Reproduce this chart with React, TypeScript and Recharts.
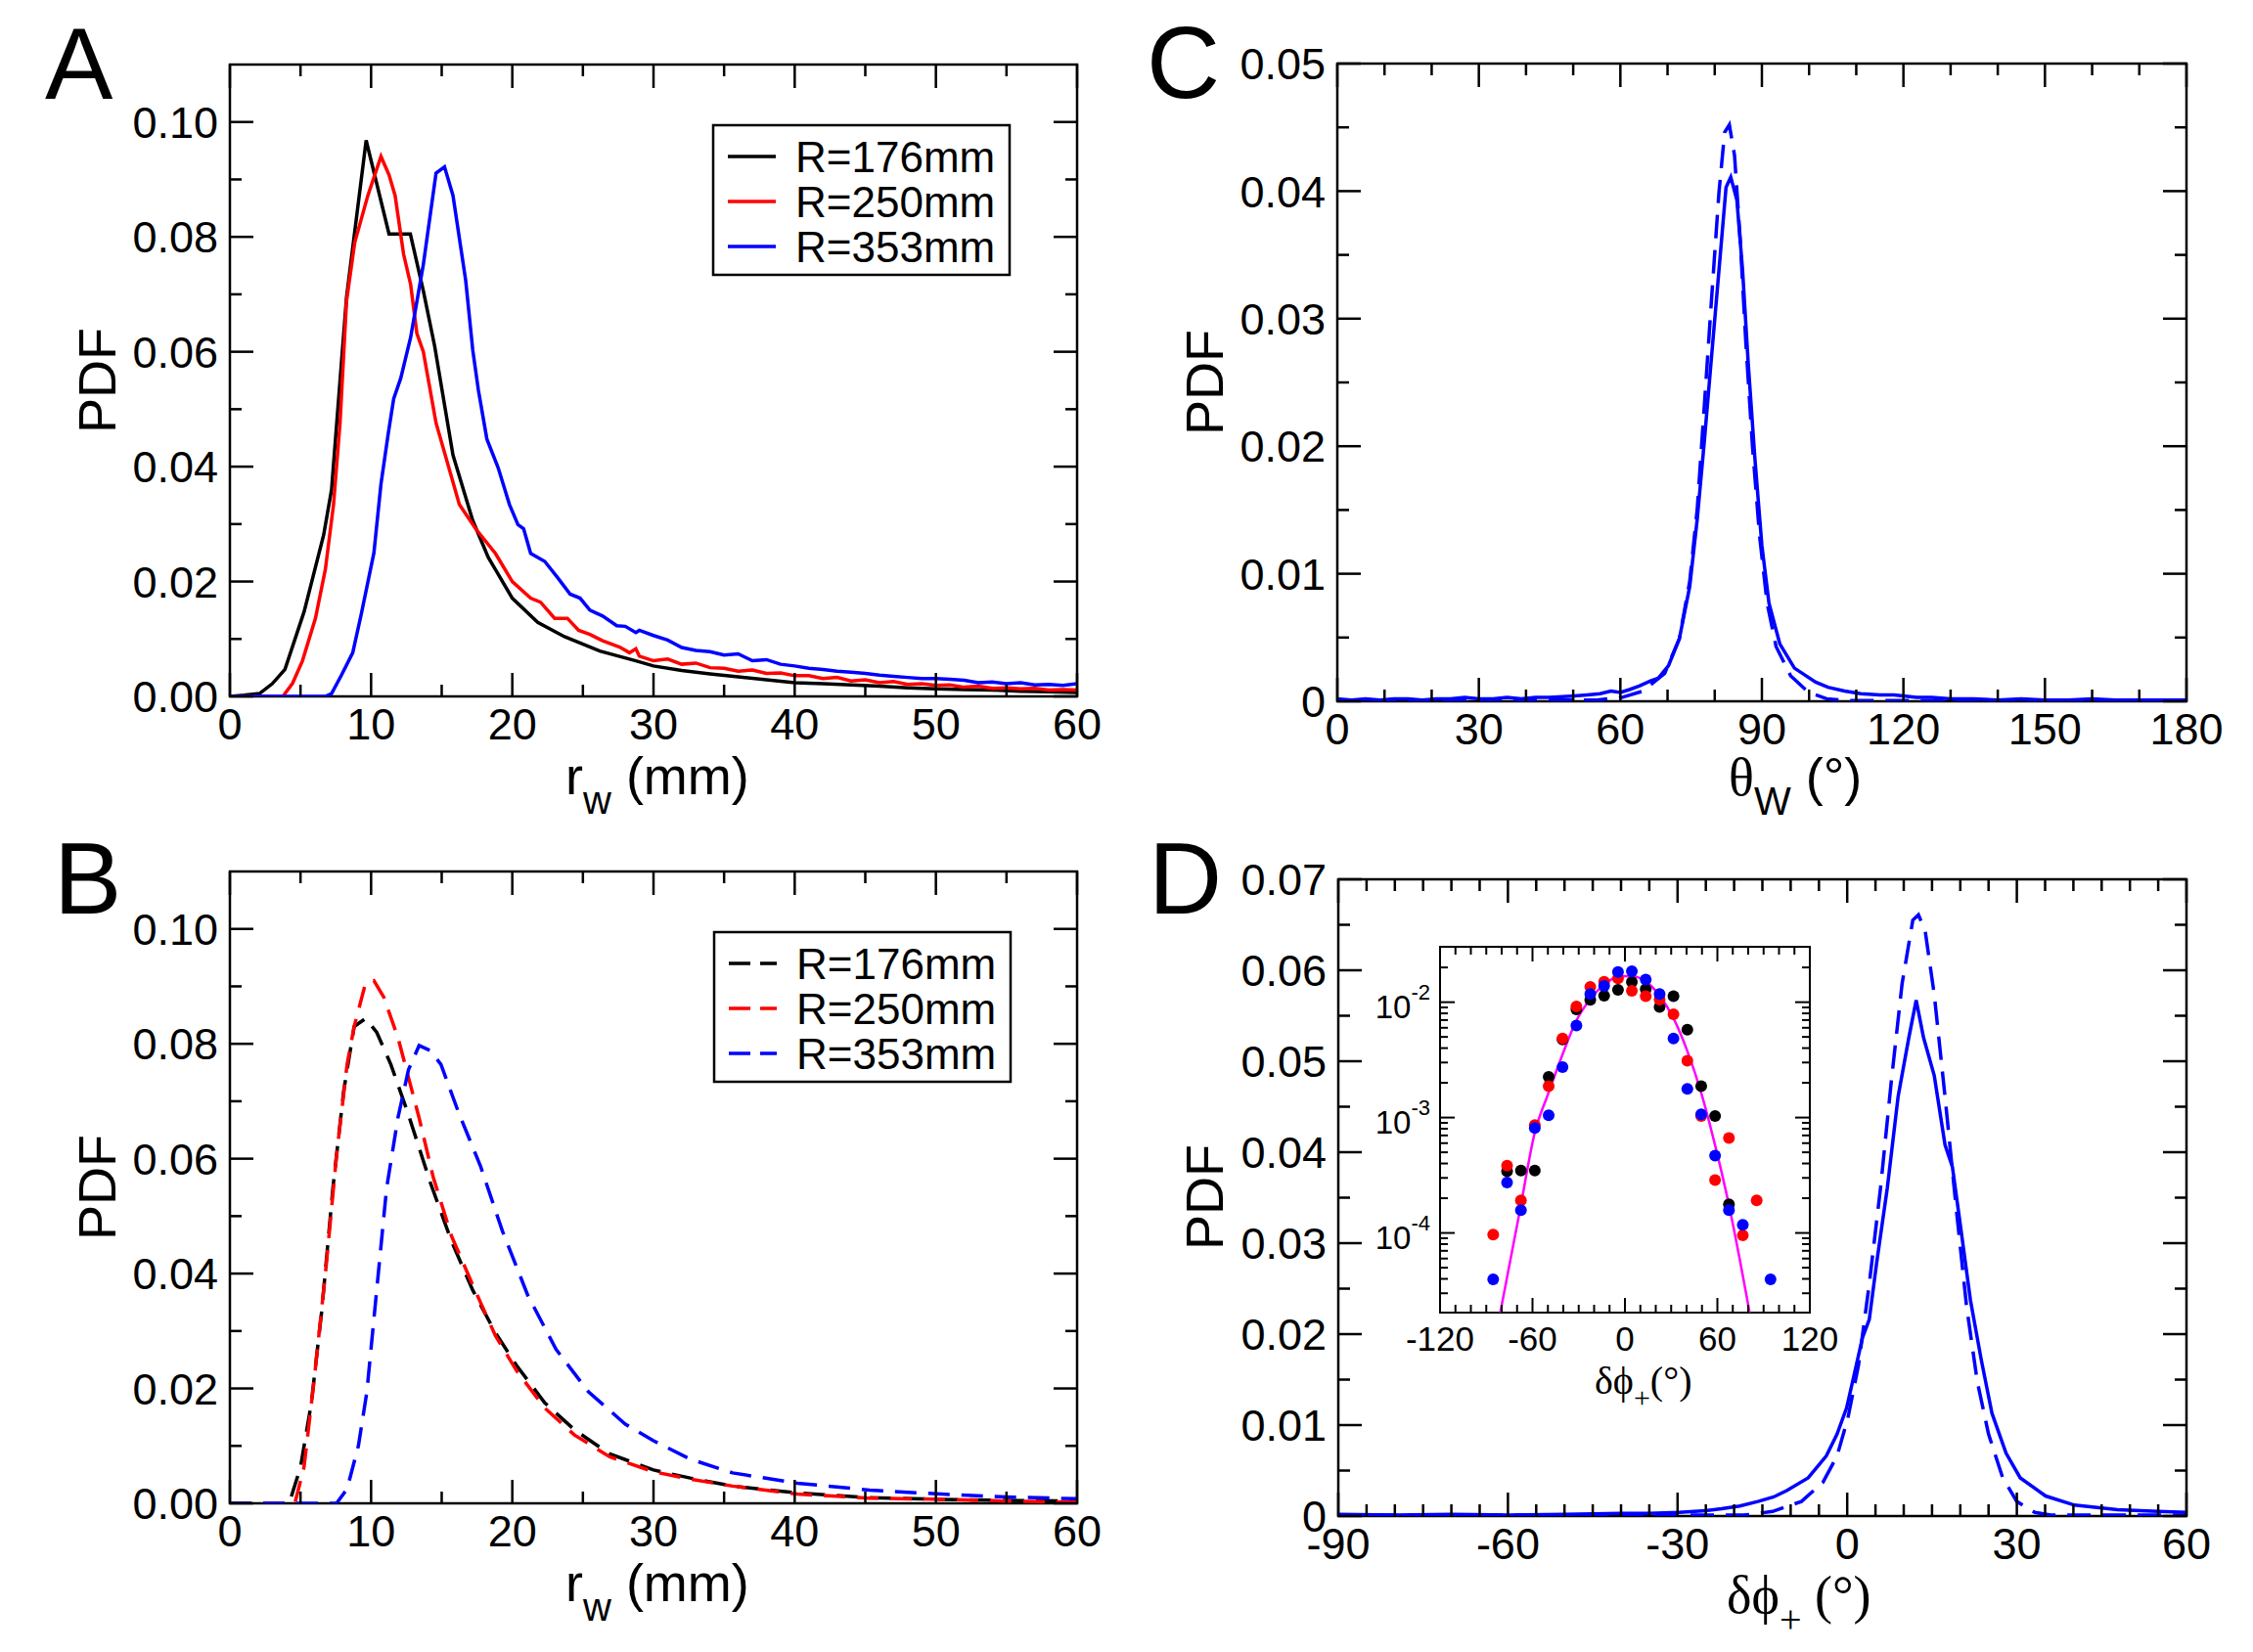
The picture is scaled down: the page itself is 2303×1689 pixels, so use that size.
import React from 'react';
import { LineChart, ComposedChart, Line, Scatter, XAxis, YAxis, ReferenceArea } from 'recharts';

const W = 2303;
const H = 1689;
const SANS = '"Liberation Sans", Arial, Helvetica, sans-serif';
const SERIF = '"Liberation Serif", "Times New Roman", serif';

// legend labels and series colours
const RADII = ['R=176mm', 'R=250mm', 'R=353mm'];
const COLORS = ['#000000', '#ff0000', '#0000ff'];

// ---- panel A : measured r_w distributions (solid)
const A_176_X = [0, 1, 2.1, 3, 3.9, 5.25, 6.64, 7.2, 8.26, 9.65, 11.27, 12.78, 13.7, 14.5, 15.8, 17.2, 18.3, 20, 21.8, 23.7, 26.2, 28.75, 30, 32, 34, 36, 38, 40, 42, 44, 46, 48, 50, 52, 54, 56, 58, 60];
const A_176_Y = [0, 0.0002, 0.0005, 0.0022, 0.0047, 0.0147, 0.0281, 0.036, 0.0695, 0.0968, 0.0805, 0.0805, 0.0706, 0.061, 0.042, 0.0306, 0.0242, 0.0171, 0.0129, 0.0104, 0.0079, 0.0062, 0.0053, 0.0045, 0.0039, 0.0034, 0.0029, 0.0024, 0.0022, 0.002, 0.0018, 0.0015, 0.0013, 0.0012, 0.0011, 0.0009, 0.0008, 0.0007];

const A_250_X = [0, 3.75, 4.44, 5.14, 6.06, 6.76, 7.34, 7.8, 8.26, 8.84, 9.77, 10.7, 11.27, 11.7, 12.3, 12.8, 13.24, 13.7, 14.6, 15.8, 16.25, 17.4, 18.8, 20, 21.3, 22, 23, 23.9, 24.7, 25.5, 26.4, 27.6, 28.3, 28.75,
  29, 30, 31, 32, 33, 34, 35, 36, 37, 38, 39, 40, 41, 42, 43, 44, 45, 46, 47, 48, 49, 50, 51, 52, 53, 54, 55, 56, 57, 58, 59, 60];
const A_250_Y = [0, 0, 0.0023, 0.0062, 0.0136, 0.0221, 0.0334, 0.0476, 0.0688, 0.079, 0.0872, 0.094, 0.0908, 0.0872, 0.077, 0.0717, 0.0632, 0.06, 0.0476, 0.0373, 0.0334, 0.0292, 0.0249, 0.02, 0.0171, 0.0164, 0.0136, 0.0136, 0.0115, 0.0108, 0.0097, 0.0086, 0.0076, 0.0083,
  0.007, 0.0062, 0.0065, 0.0056, 0.0058, 0.005, 0.0049, 0.0044, 0.0046, 0.004, 0.0041, 0.0036, 0.0036, 0.0031, 0.0033, 0.0027, 0.0029, 0.0024, 0.0026, 0.0021, 0.0022, 0.0019, 0.002, 0.0016, 0.0018, 0.0014, 0.0015, 0.0013, 0.0014, 0.0011, 0.0012, 0.0011];

const A_353_X = [0, 6.76, 7.2, 7.9, 8.7, 9.3, 10.2, 10.7, 11.2, 11.6, 12.1, 12.8, 13.7, 14.6, 15.2, 15.8, 16.7, 17.2, 17.6, 18.2, 19, 19.8, 20.4, 20.8, 21.3, 22.3, 23.2, 24.1, 24.8, 25.5, 26.4, 27.4, 28, 28.75,
  29, 30, 31, 32, 33, 34, 35, 36, 37, 38, 39, 40, 41, 42, 43, 44, 45, 46, 47, 48, 49, 50, 51, 52, 53, 54, 55, 56, 57, 58, 59, 60];
const A_353_Y = [0, 0, 0.0005, 0.0037, 0.0076, 0.0143, 0.025, 0.037, 0.0455, 0.0518, 0.0554, 0.0625, 0.0752, 0.0911, 0.0922, 0.0872, 0.0724, 0.0603, 0.0533, 0.0448, 0.0398, 0.0334, 0.0299, 0.0292, 0.0249, 0.0235, 0.0207, 0.0178, 0.0171, 0.015, 0.014, 0.0123, 0.0122, 0.0111,
  0.0115, 0.0106, 0.0098, 0.0085, 0.008, 0.0078, 0.0072, 0.0074, 0.0062, 0.0064, 0.0056, 0.0053, 0.0049, 0.0047, 0.0044, 0.0042, 0.004, 0.0037, 0.0035, 0.0033, 0.0031, 0.0031, 0.003, 0.0028, 0.0024, 0.0025, 0.0022, 0.0024, 0.002, 0.0021, 0.0019, 0.0022];

// ---- panel B : model r_w distributions (dashed)
const B_176_X = [0, 4.2, 5, 5.77, 6.5, 7.3, 8.06, 8.8, 9.6, 10.4, 11.4, 12.6, 14.2, 15.7, 17.2, 18.8, 20.3, 22.3, 24.4, 26.9, 30, 32.6, 35.6, 40.2, 45.3, 50.4, 55, 60];
const B_176_Y = [0, 0, 0.0063, 0.0175, 0.0334, 0.055, 0.0718, 0.083, 0.0844, 0.082, 0.0764, 0.068, 0.0558, 0.0456, 0.0371, 0.0297, 0.024, 0.0175, 0.0128, 0.0086, 0.0058, 0.0044, 0.003, 0.0018, 0.001, 0.0007, 0.0005, 0.0004];

const B_250_X = [0, 4.6, 5.25, 6, 6.8, 7.55, 8.3, 8.8, 9.6, 10.2, 10.9, 11.9, 12.6, 13.4, 14.4, 15.7, 17.2, 18.8, 20.3, 22.3, 24.4, 26.9, 30, 32.6, 35.6, 40.2, 45.3, 50.4, 55, 60];
const B_250_Y = [0, 0, 0.0063, 0.0222, 0.0409, 0.0605, 0.0764, 0.083, 0.0905, 0.091, 0.0881, 0.0811, 0.0746, 0.0671, 0.0568, 0.0465, 0.038, 0.0292, 0.0231, 0.0166, 0.0119, 0.0081, 0.0055, 0.0042, 0.003, 0.0016, 0.0009, 0.0007, 0.0004, 0.0002];

const B_353_X = [0, 7.55, 8.3, 9.1, 9.7, 10.36, 11.1, 11.9, 12.65, 13.4, 14.2, 14.95, 16.2, 17.75, 19.3, 21.1, 23.1, 25.4, 28, 30, 32.6, 35.6, 40.2, 45.3, 50.4, 55, 60];
const B_353_Y = [0, 0, 0.0025, 0.01, 0.0194, 0.0362, 0.0549, 0.0671, 0.0755, 0.0797, 0.0788, 0.0764, 0.068, 0.0587, 0.0474, 0.0362, 0.0268, 0.0194, 0.0138, 0.0109, 0.0077, 0.0053, 0.0035, 0.0023, 0.0016, 0.0011, 0.0008];

// ---- panel C : theta_W
const C_SOLID_X = [0, 3, 6, 9, 12, 15, 18, 21, 24, 27, 30, 33, 36, 39, 42, 45, 49.6, 53, 55.7, 58, 60, 61.8, 64, 66.4, 68, 70.2, 72.5, 74.7, 76.3, 77.8, 79.3, 80.9, 82.4, 83.4, 84.7, 85.9, 87.1, 88.5, 90, 91.5, 93.8, 96.9, 101.4, 104, 107.5, 111, 115, 118, 122.8, 126, 130, 135, 140, 145, 150, 155, 160, 165, 170, 175, 180];
const C_SOLID_Y = [0.0002, 0.0001, 0.0002, 0.0001, 0.0002, 0.0002, 0.0001, 0.0002, 0.0002, 0.0003, 0.0002, 0.0002, 0.0003, 0.0002, 0.0003, 0.0003, 0.0004, 0.0005, 0.0006, 0.0008, 0.0007, 0.0009, 0.0012, 0.0016, 0.0018, 0.0028, 0.0049, 0.009, 0.0143, 0.0204, 0.0269, 0.0338, 0.0403, 0.0411, 0.0393, 0.0338, 0.0265, 0.0191, 0.0122, 0.0077, 0.0045, 0.0026, 0.0015, 0.0011, 0.0008, 0.0006, 0.0005, 0.0005, 0.0003, 0.0003, 0.0002, 0.0002, 0.0001, 0.0002, 0.0001, 0.0001, 0.0002, 0.0001, 0.0001, 0.0001, 0.0001];
const C_DASH_X = [0, 20, 40, 55, 60.3, 64.8, 69.4, 72.5, 74.7, 76.3, 77.8, 79.3, 80.9, 82.1, 83.1, 84.2, 85.4, 86.6, 88, 89.5, 91.1, 93, 96.1, 99.9, 103.7, 108, 120, 140, 180];
const C_DASH_Y = [0.0001, 0.0001, 0.0001, 0.0001, 0.0003, 0.0008, 0.0022, 0.0049, 0.0094, 0.0151, 0.0232, 0.0314, 0.0399, 0.0446, 0.0452, 0.0428, 0.0362, 0.0281, 0.02, 0.013, 0.0077, 0.0043, 0.002, 0.0007, 0.0002, 0.00005, 0.00005, 0.00003, 0.00003];

// ---- panel D : delta phi_+
const D_SOLID_X = [-90, -80, -70, -60, -50, -40, -35, -29.7, -25, -22.2, -19, -15.8, -13, -10.7, -6.9, -3.7, -1.8, -0.1, 1.4, 2.7, 3.9, 5.2, 7.1, 9, 10.9, 12.2, 13.5, 15.4, 17.3, 18.6, 19.9, 21.8, 23.7, 25.6, 28.1, 30.6, 35.1, 40.2, 47.8, 55, 60];
const D_SOLID_Y = [0.0002, 0.0001, 0.0002, 0.0001, 0.0002, 0.0003, 0.0003, 0.0004, 0.0006, 0.0008, 0.0011, 0.0016, 0.0021, 0.0028, 0.0042, 0.0066, 0.009, 0.0119, 0.016, 0.0196, 0.0216, 0.0278, 0.0361, 0.0461, 0.0526, 0.0567, 0.0526, 0.0484, 0.0408, 0.0384, 0.0325, 0.0237, 0.0172, 0.0113, 0.0069, 0.0042, 0.0022, 0.0012, 0.0007, 0.0005, 0.0004];
const D_DASH_X = [-90, -50, -25, -18.3, -13.2, -8.1, -4.3, -1.8, 0.1, 2, 3.9, 5.9, 7.8, 9.7, 11.6, 12.6, 13.8, 15.4, 17.3, 19.2, 21.1, 23, 25, 27.5, 30, 33.2, 36, 60];
const D_DASH_Y = [0.0001, 0.0001, 0.0001, 0.0001, 0.0005, 0.0016, 0.0037, 0.0066, 0.0107, 0.0166, 0.0255, 0.0361, 0.0478, 0.0585, 0.0655, 0.0661, 0.0643, 0.0573, 0.0461, 0.0343, 0.0231, 0.0148, 0.009, 0.0042, 0.0016, 0.0004, 0.0001, 0.0001];

// ---- inset : log10 of PDF per 9 degree bin
const INSET_176_X = [-76.5, -67.5, -58.5, -49.5, -40.5, -31.5, -22.5, -13.5, -4.5, 4.5, 13.5, 22.5, 31.5, 40.5, 49.5, 58.5, 67.5];
const INSET_176_LOG = [-3.465, -3.459, -3.459, -2.648, -2.324, -2.062, -1.98, -1.944, -1.893, -1.825, -1.887, -2.042, -1.949, -2.239, -2.727, -2.986, -3.752];
const INSET_250_X = [-85.5, -76.5, -67.5, -58.5, -49.5, -40.5, -31.5, -22.5, -13.5, -4.5, 4.5, 13.5, 22.5, 31.5, 40.5, 49.5, 58.5, 67.5, 76.5, 85.5];
const INSET_250_LOG = [-4.014, -3.417, -3.718, -3.065, -2.727, -2.315, -2.037, -1.868, -1.823, -1.794, -1.901, -1.949, -1.977, -2.104, -2.507, -2.986, -3.541, -3.177, -4.02, -3.718];
const INSET_353_X = [-85.5, -76.5, -67.5, -58.5, -49.5, -40.5, -31.5, -22.5, -13.5, -4.5, 4.5, 13.5, 22.5, 31.5, 40.5, 49.5, 58.5, 67.5, 76.5, 94.5];
const INSET_353_LOG = [-4.403, -3.563, -3.803, -3.09, -2.98, -2.563, -2.203, -1.93, -1.859, -1.738, -1.732, -1.803, -1.93, -2.315, -2.752, -2.972, -3.33, -3.803, -3.93, -4.403];
const INSET_FIT_X = [-80.9, -68.1, -58.5, -50, -40.4, -31.9, -22.3, -13.8, -4.7, 0, 4.3, 13.4, 22.3, 31.5, 40.4, 49.6, 58.5, 67.7, 80.9];
const INSET_FIT_LOG = [-4.69, -3.8, -3.13, -2.8, -2.45, -2.17, -1.97, -1.85, -1.78, -1.775, -1.775, -1.82, -1.94, -2.14, -2.42, -2.79, -3.24, -3.77, -4.69];

// ---- ticks
const AB_X_TICKS = [0, 5, 10, 15, 20, 25, 30, 35, 40, 45, 50, 55, 60];
const AB_X_LABELS = [0, 10, 20, 30, 40, 50, 60];
const AB_Y_TICKS = [0, 0.01, 0.02, 0.03, 0.04, 0.05, 0.06, 0.07, 0.08, 0.09, 0.1];
const AB_Y_LABELS = [0, 0.02, 0.04, 0.06, 0.08, 0.1];
const C_X_TICKS = [0, 10, 20, 30, 40, 50, 60, 70, 80, 90, 100, 110, 120, 130, 140, 150, 160, 170, 180];
const C_X_LABELS = [0, 30, 60, 90, 120, 150, 180];
const C_Y_TICKS = [0, 0.005, 0.01, 0.015, 0.02, 0.025, 0.03, 0.035, 0.04, 0.045, 0.05];
const C_Y_LABELS = [0, 0.01, 0.02, 0.03, 0.04, 0.05];
const D_X_TICKS = [-90, -85, -80, -75, -70, -65, -60, -55, -50, -45, -40, -35, -30, -25, -20, -15, -10, -5, 0, 5, 10, 15, 20, 25, 30, 35, 40, 45, 50, 55, 60];
const D_X_LABELS = [-90, -60, -30, 0, 30, 60];
const D_Y_TICKS = [0, 0.005, 0.01, 0.015, 0.02, 0.025, 0.03, 0.035, 0.04, 0.045, 0.05, 0.055, 0.06, 0.065, 0.07];
const D_Y_LABELS = [0, 0.01, 0.02, 0.03, 0.04, 0.05, 0.06, 0.07];
const INSET_X_TICKS = [-120, -110, -100, -90, -80, -70, -60, -50, -40, -30, -20, -10, 0, 10, 20, 30, 40, 50, 60, 70, 80, 90, 100, 110, 120];
const INSET_X_LABELS = [-120, -60, 0, 60, 120];
const INSET_Y_TICKS = [3e-5, 4e-5, 5e-5, 6e-5, 7e-5, 8e-5, 9e-5, 1e-4, 2e-4, 3e-4, 4e-4, 5e-4, 6e-4, 7e-4, 8e-4, 9e-4, 1e-3, 2e-3, 3e-3, 4e-3, 5e-3, 6e-3, 7e-3, 8e-3, 9e-3, 1e-2, 2e-2];
const INSET_Y_LABELS = [1e-4, 1e-3, 1e-2];
const INSET_Y_DOMAIN = [2.04e-5, 0.0302];

type Pt = { x: number; y: number };
type Box = { left: number; top: number; right: number; bottom: number };
type Series = { data: Pt[]; color: string; dashed?: boolean };

const pts = (xs: number[], ys: number[]): Pt[] => xs.map((x, i) => ({ x, y: ys[i] }));
const logPts = (xs: number[], es: number[]): Pt[] => xs.map((x, i) => ({ x, y: Math.pow(10, es[i]) }));
const isIn = (list: number[], v: number) => list.some((m) => Math.abs(m - v) < 1e-12);

const BOX_A: Box = { left: 235, top: 66, right: 1101, bottom: 712 };
const BOX_B: Box = { left: 235, top: 891, right: 1101, bottom: 1537 };
const BOX_C: Box = { left: 1367, top: 65, right: 2235, bottom: 717 };
const BOX_D: Box = { left: 1368, top: 899, right: 2235, bottom: 1550 };
const BOX_IN: Box = { left: 1472, top: 968, right: 1850, bottom: 1342 };

type TickOpt = { major: number; minor: number; sw: number; fs: number; gap: number };
const MAIN_TICK: TickOpt = { major: 24, minor: 12, sw: 2.5, fs: 45, gap: 44 };
const INSET_TICK: TickOpt = { major: 15, minor: 8, sw: 2, fs: 35, gap: 39 };

const fmt2 = (v: number) => v.toFixed(2);
const fmt0 = (v: number) => (v === 0 ? '0' : v.toFixed(2));
const fmtInt = (v: number) => String(v);

const xTick = (box: Box, labels: number[], fmt: (v: number) => string, o: TickOpt) => (props: any) => {
  const v = props.payload.value;
  const x = props.payload.coordinate;
  const major = isIn(labels, v);
  const len = major ? o.major : o.minor;
  return (
    <g>
      <line x1={x} x2={x} y1={box.bottom} y2={box.bottom - len} stroke="#000" strokeWidth={o.sw} />
      <line x1={x} x2={x} y1={box.top} y2={box.top + len} stroke="#000" strokeWidth={o.sw} />
      {major && (
        <text x={x} y={box.bottom + o.gap} textAnchor="middle" fontSize={o.fs} fontFamily={SANS} fill="#000">
          {fmt(v)}
        </text>
      )}
    </g>
  );
};

const yTick = (box: Box, labels: number[], fmt: (v: number) => string, o: TickOpt) => (props: any) => {
  const v = props.payload.value;
  const y = props.payload.coordinate;
  const major = isIn(labels, v);
  const len = major ? o.major : o.minor;
  return (
    <g>
      <line x1={box.left} x2={box.left + len} y1={y} y2={y} stroke="#000" strokeWidth={o.sw} />
      <line x1={box.right} x2={box.right - len} y1={y} y2={y} stroke="#000" strokeWidth={o.sw} />
      {major && (
        <text x={box.left - 12} y={y} dy="0.36em" textAnchor="end" fontSize={o.fs} fontFamily={SANS} fill="#000">
          {fmt(v)}
        </text>
      )}
    </g>
  );
};

const logYTick = (box: Box, labels: number[], o: TickOpt) => (props: any) => {
  const v = props.payload.value;
  const y = props.payload.coordinate;
  const major = isIn(labels, v);
  const len = major ? o.major : o.minor;
  return (
    <g>
      <line x1={box.left} x2={box.left + len} y1={y} y2={y} stroke="#000" strokeWidth={o.sw} />
      <line x1={box.right} x2={box.right - len} y1={y} y2={y} stroke="#000" strokeWidth={o.sw} />
      {major && (
        <text x={box.left - 10} y={y + 16} textAnchor="end" fontSize={33} fontFamily={SANS} fill="#000">
          10
          <tspan dy={-19} fontSize={22}>{String(Math.round(Math.log10(v)))}</tspan>
        </text>
      )}
    </g>
  );
};

// axes get a 1px band so that they are rendered; the plot area still equals the box
const marginOf = (b: Box) => ({ left: b.left - 1, top: b.top, right: W - b.right, bottom: H - b.bottom - 1 });

type PanelProps = {
  box: Box;
  xDomain: [number, number];
  xTicks: number[];
  xLabels: number[];
  yDomain: [number, number];
  yTicks: number[];
  yLabels: number[];
  yFmt: (v: number) => string;
  series: Series[];
  dash: string;
};

const Panel = ({ box, xDomain, xTicks, xLabels, yDomain, yTicks, yLabels, yFmt, series, dash }: PanelProps) => (
  <div style={{ position: 'absolute', left: 0, top: 0 }}>
    <LineChart width={W} height={H} margin={marginOf(box)}>
      <XAxis type="number" dataKey="x" domain={xDomain} ticks={xTicks} interval={0} allowDataOverflow
        height={1} axisLine={false} tickLine={false} tickSize={0} tickMargin={0}
        tick={xTick(box, xLabels, fmtInt, MAIN_TICK)} />
      <YAxis type="number" domain={yDomain} ticks={yTicks} interval={0} allowDataOverflow
        width={1} axisLine={false} tickLine={false} tickSize={0} tickMargin={0}
        tick={yTick(box, yLabels, yFmt, MAIN_TICK)} />
      <ReferenceArea x1={xDomain[0]} x2={xDomain[1]} y1={yDomain[0]} y2={yDomain[1]}
        fill="none" fillOpacity={0} stroke="#000" strokeWidth={2.5} strokeOpacity={1} ifOverflow="visible" />
      {series.map((s, i) => (
        <Line key={i} data={s.data} dataKey="y" type="linear" stroke={s.color} strokeWidth={3.5}
          strokeDasharray={s.dashed ? dash : undefined} dot={false} activeDot={false} isAnimationActive={false} />
      ))}
    </LineChart>
  </div>
);

const dotShape = (color: string) => (p: any) => <circle cx={p.cx} cy={p.cy} r={6} fill={color} />;

const Inset = () => (
  <div style={{ position: 'absolute', left: 0, top: 0 }}>
    <ComposedChart width={W} height={H} margin={marginOf(BOX_IN)}>
      <XAxis type="number" dataKey="x" domain={[-120, 120]} ticks={INSET_X_TICKS} interval={0} allowDataOverflow
        height={1} axisLine={false} tickLine={false} tickSize={0} tickMargin={0}
        tick={xTick(BOX_IN, INSET_X_LABELS, fmtInt, INSET_TICK)} />
      <YAxis type="number" dataKey="y" scale="log" domain={INSET_Y_DOMAIN} ticks={INSET_Y_TICKS} interval={0} allowDataOverflow
        width={1} axisLine={false} tickLine={false} tickSize={0} tickMargin={0}
        tick={logYTick(BOX_IN, INSET_Y_LABELS, INSET_TICK)} />
      <ReferenceArea x1={-120} x2={120} y1={INSET_Y_DOMAIN[0]} y2={INSET_Y_DOMAIN[1]}
        fill="none" fillOpacity={0} stroke="#000" strokeWidth={2} strokeOpacity={1} ifOverflow="visible" />
      <Scatter data={logPts(INSET_176_X, INSET_176_LOG)} fill={COLORS[0]} shape={dotShape(COLORS[0])} isAnimationActive={false} />
      <Scatter data={logPts(INSET_250_X, INSET_250_LOG)} fill={COLORS[1]} shape={dotShape(COLORS[1])} isAnimationActive={false} />
      <Scatter data={logPts(INSET_353_X, INSET_353_LOG)} fill={COLORS[2]} shape={dotShape(COLORS[2])} isAnimationActive={false} />
      <Line data={logPts(INSET_FIT_X, INSET_FIT_LOG)} dataKey="y" type="monotone" stroke="#ff00ff" strokeWidth={2.5}
        dot={false} activeDot={false} isAnimationActive={false} />
    </ComposedChart>
  </div>
);

const LegendBox = ({ x, y, dashed }: { x: number; y: number; dashed: boolean }) => (
  <g>
    <rect x={x} y={y} width={303} height={153} fill="#fff" stroke="#000" strokeWidth={2.5} />
    {RADII.map((r, i) => {
      const cy = y + 32 + i * 46;
      return (
        <g key={r}>
          <line x1={x + 15} x2={x + 64} y1={cy} y2={cy} stroke={COLORS[i]} strokeWidth={3.5}
            strokeDasharray={dashed ? '22 10' : undefined} />
          <text x={x + 84} y={cy + 16} fontSize={44} fontFamily={SANS} fill="#000">{r}</text>
        </g>
      );
    })}
  </g>
);

const Overlay = () => (
  <svg width={W} height={H} style={{ position: 'absolute', left: 0, top: 0 }} fontFamily={SANS}>
    <text x={46} y={101} fontSize={104} fill="#000">A</text>
    <text x={55} y={934} fontSize={104} fill="#000">B</text>
    <text x={1172} y={100} fontSize={104} fill="#000">C</text>
    <text x={1174} y={934} fontSize={104} fill="#000">D</text>

    {[389, 1214].map((cy) => (
      <text key={cy} transform={`translate(99,${cy}) rotate(-90)`} textAnchor="middle" dy="0.36em" fontSize={54} fill="#000">PDF</text>
    ))}
    {[391, 1224].map((cy) => (
      <text key={cy} transform={`translate(1231,${cy}) rotate(-90)`} textAnchor="middle" dy="0.36em" fontSize={54} fill="#000">PDF</text>
    ))}

    {[812, 1637].map((by) => (
      <text key={by} x={578} y={by} fontSize={54} fill="#000">
        r<tspan fontSize={40} dy={20}>w</tspan><tspan dy={-20}> (mm)</tspan>
      </text>
    ))}
    <text x={1767} y={813} fontSize={54} fill="#000">
      <tspan fontFamily={SERIF}>θ</tspan><tspan fontSize={40} dy={20}>W</tspan><tspan dy={-20}> (°)</tspan>
    </text>
    <text x={1765} y={1649} fontSize={54} fontFamily={SERIF} fill="#000">
      δϕ<tspan fontSize={40} dy={20}>+</tspan><tspan dy={-20}> (°)</tspan>
    </text>
    <text x={1630} y={1425} fontSize={40} fontFamily={SERIF} fill="#000">
      δϕ<tspan fontSize={30} dy={14}>+</tspan><tspan dy={-14}>(°)</tspan>
    </text>

    <LegendBox x={729} y={128} dashed={false} />
    <LegendBox x={730} y={953} dashed />
  </svg>
);

export default function App() {
  return (
    <div style={{ position: 'absolute', left: 0, top: 0, width: W, height: H, background: '#fff', overflow: 'hidden' }}>
      <Panel box={BOX_A} xDomain={[0, 60]} xTicks={AB_X_TICKS} xLabels={AB_X_LABELS}
        yDomain={[0, 0.11]} yTicks={AB_Y_TICKS} yLabels={AB_Y_LABELS} yFmt={fmt2} dash="22 12"
        series={[
          { data: pts(A_176_X, A_176_Y), color: COLORS[0] },
          { data: pts(A_250_X, A_250_Y), color: COLORS[1] },
          { data: pts(A_353_X, A_353_Y), color: COLORS[2] },
        ]} />
      <Panel box={BOX_B} xDomain={[0, 60]} xTicks={AB_X_TICKS} xLabels={AB_X_LABELS}
        yDomain={[0, 0.11]} yTicks={AB_Y_TICKS} yLabels={AB_Y_LABELS} yFmt={fmt2} dash="22 12"
        series={[
          { data: pts(B_176_X, B_176_Y), color: COLORS[0], dashed: true },
          { data: pts(B_250_X, B_250_Y), color: COLORS[1], dashed: true },
          { data: pts(B_353_X, B_353_Y), color: COLORS[2], dashed: true },
        ]} />
      <Panel box={BOX_C} xDomain={[0, 180]} xTicks={C_X_TICKS} xLabels={C_X_LABELS}
        yDomain={[0, 0.05]} yTicks={C_Y_TICKS} yLabels={C_Y_LABELS} yFmt={fmt0} dash="24 12"
        series={[
          { data: pts(C_SOLID_X, C_SOLID_Y), color: COLORS[2] },
          { data: pts(C_DASH_X, C_DASH_Y), color: COLORS[2], dashed: true },
        ]} />
      <Panel box={BOX_D} xDomain={[-90, 60]} xTicks={D_X_TICKS} xLabels={D_X_LABELS}
        yDomain={[0, 0.07]} yTicks={D_Y_TICKS} yLabels={D_Y_LABELS} yFmt={fmt0} dash="24 12"
        series={[
          { data: pts(D_SOLID_X, D_SOLID_Y), color: COLORS[2] },
          { data: pts(D_DASH_X, D_DASH_Y), color: COLORS[2], dashed: true },
        ]} />
      <Inset />
      <Overlay />
    </div>
  );
}
